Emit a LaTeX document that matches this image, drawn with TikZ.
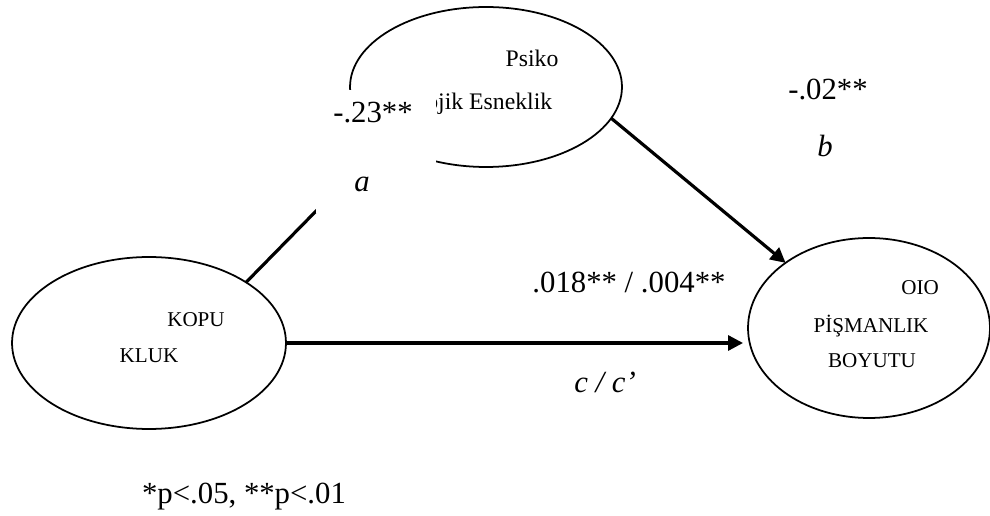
\documentclass[tikz,border=0pt]{standalone}
\usepackage{fontspec}
\setmainfont{Liberation Serif}
\usepackage{tikz}
\usetikzlibrary{arrows.meta,positioning,shapes.geometric}

\begin{document}
\begin{tikzpicture}[
  x=0.02cm, y=-0.02cm,
  latent/.style={draw, ellipse, line width=1pt, inner sep=0pt, outer sep=0pt},
  var/.style={font=\fontsize{12}{14}\selectfont, anchor=base, inner sep=0pt},
  psitext/.style={font=\fontsize{13.5}{16}\selectfont, anchor=base, inner sep=0pt},
  lbl/.style={font=\fontsize{17.5}{21}\selectfont, anchor=base, inner sep=0pt},
  pathline/.style={line width=1.8pt},
  arrow/.style={-{Triangle[length=3mm,width=3mm]}, line width=1.8pt}
]
\useasboundingbox (0,0) rectangle (990,516);
\node[latent, minimum width=5.44cm, minimum height=3.2cm] (psi) at (486,87) {};
\node[latent, minimum width=5.48cm, minimum height=3.44cm] (kop) at (149,343) {};
\node[latent, minimum width=4.84cm, minimum height=3.6cm] (pis) at (869,328) {};
\node[psitext] (psi1) at (532,67) {Psiko};
\node[psitext] (psi2) at (486,110) {lojik Esneklik};
\node[var] (kop1) at (196,327) {KOPU};
\node[var] (kop2) at (149,363) {KLUK};
\node[var] (pis1) at (920,295) {OIO};
\node[var] (pis2) at (871,333) {PİŞMANLIK};
\node[var] (pis3) at (872,368) {BOYUTU};
\draw[pathline] (kop.32) -- (psi.208);
\draw[arrow] (psi.-14) -- (pis.142);
\draw[arrow, shorten >=1mm] (kop.east) -- (kop.east -| pis.west);
\fill[white] (316,90) rectangle (436,213);
\node[lbl] (la) at (373,123) {-.23**};
\node[lbl] (lai) at (362,192) {\textit{a}};
\node[lbl] (lb) at (828,100) {-.02**};
\node[lbl] (lbi) at (825,157) {\textit{b}};
\node[lbl] (lc) at (629,293) {.018** / .004**};
\node[lbl] (lci) at (605,393) {\textit{c / c’}};
\node[lbl] (note) at (244,503) {*p<.05, **p<.01};
\end{tikzpicture}
\end{document}
